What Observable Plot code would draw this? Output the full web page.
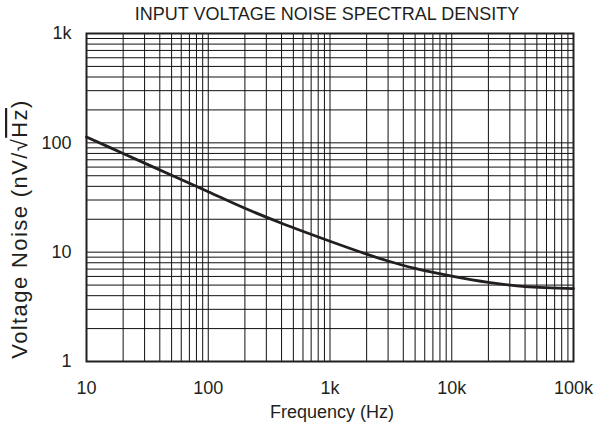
<!DOCTYPE html>
<html>
<head>
<meta charset="utf-8">
<script src="https://cdn.jsdelivr.net/npm/d3@7"></script>
<script src="https://cdn.jsdelivr.net/npm/@observablehq/plot@0.6"></script>
<style>
  html, body { margin: 0; padding: 0; background: #fff; }
  svg { display: block; }
</style>
</head>
<body>
<div id="chart"></div>
<script>
// ---- data ----
const frequencyHz = [10, 20, 50, 100, 200, 400, 1000, 2000, 3000, 5000, 10000, 20000, 40000, 100000];
const noiseNv = [113, 80, 50.5, 35.7, 25.2, 18.4, 12.6, 9.6, 8.3, 7.1, 6.05, 5.3, 4.85, 4.65];

const xTickValues = [10, 100, 1000, 10000, 100000];
const xTickLabels = ["10", "100", "1k", "10k", "100k"];
const yTickValues = [1, 10, 100, 1000];
const yTickLabels = ["1", "10", "100", "1k"];

const xDecades = [10, 100, 1000, 10000];
const yDecades = [1, 10, 100];
const gridMultipliers = [1, 2, 3, 4, 5, 6, 7, 8, 9];

const titleText = "INPUT VOLTAGE NOISE SPECTRAL DENSITY";
const xLabelText = "Frequency (Hz)";

// ---- derived tables ----
const rows = frequencyHz.map((f, i) => ({f, v: noiseNv[i]}));
const xGrid = xDecades.flatMap(d => gridMultipliers.map(k => d * k));
const yGrid = yDecades.flatMap(d => gridMultipliers.map(k => d * k));
const xLabelMap = new Map(xTickValues.map((v, i) => [v, xTickLabels[i]]));
const yLabelMap = new Map(yTickValues.map((v, i) => [v, yTickLabels[i]]));

const ink = "#231f20";
const font = "'Liberation Sans', Arial, Helvetica, sans-serif";

const chart = Plot.plot({
  width: 595,
  height: 432,
  marginLeft: 86,
  marginRight: 22,
  marginTop: 33,
  marginBottom: 71,
  style: {fontFamily: font, color: ink, background: "#fff", overflow: "visible"},
  x: {type: "log", domain: [10, 100000]},
  y: {type: "log", domain: [1, 1000]},
  marks: [
    Plot.ruleX(xGrid, {stroke: "#111", strokeWidth: 1}),
    Plot.ruleY(yGrid, {stroke: "#111", strokeWidth: 1}),
    Plot.line(rows, {x: "f", y: "v", stroke: ink, strokeWidth: 2.8, curve: "catmull-rom"}),
    Plot.frame({stroke: ink, strokeWidth: 2}),
    Plot.axisX(xTickValues, {tickSize: 0, tickPadding: 20, fontSize: 18, tickFormat: d => xLabelMap.get(d), label: null, fill: ink}),
    Plot.axisY(yTickValues, {tickSize: 0, tickPadding: 15, fontSize: 18, tickFormat: d => yLabelMap.get(d), label: null, fill: ink}),
    Plot.text([titleText], {frameAnchor: "top", lineAnchor: "middle", dy: -19, dx: -3, fontSize: 18, text: d => d, fill: ink}),
    Plot.text([xLabelText], {frameAnchor: "bottom", lineAnchor: "middle", dy: 51, dx: 2, fontSize: 18, text: d => d, fill: ink})
  ]
});

// y-axis title with an overline over the radical's argument
const svg = d3.select(chart);
const yLabel = svg.append("text")
  .attr("transform", "translate(27,229) rotate(-90)")
  .attr("text-anchor", "middle")
  .attr("font-family", font)
  .attr("font-size", 22)
  .attr("letter-spacing", 1.4)
  .attr("fill", ink);
yLabel.append("tspan").text("Voltage Noise (nV/\u221A");
yLabel.append("tspan").style("text-decoration", "overline").text("Hz");
yLabel.append("tspan").text(")");

document.getElementById("chart").appendChild(chart);
</script>
</body>
</html>
